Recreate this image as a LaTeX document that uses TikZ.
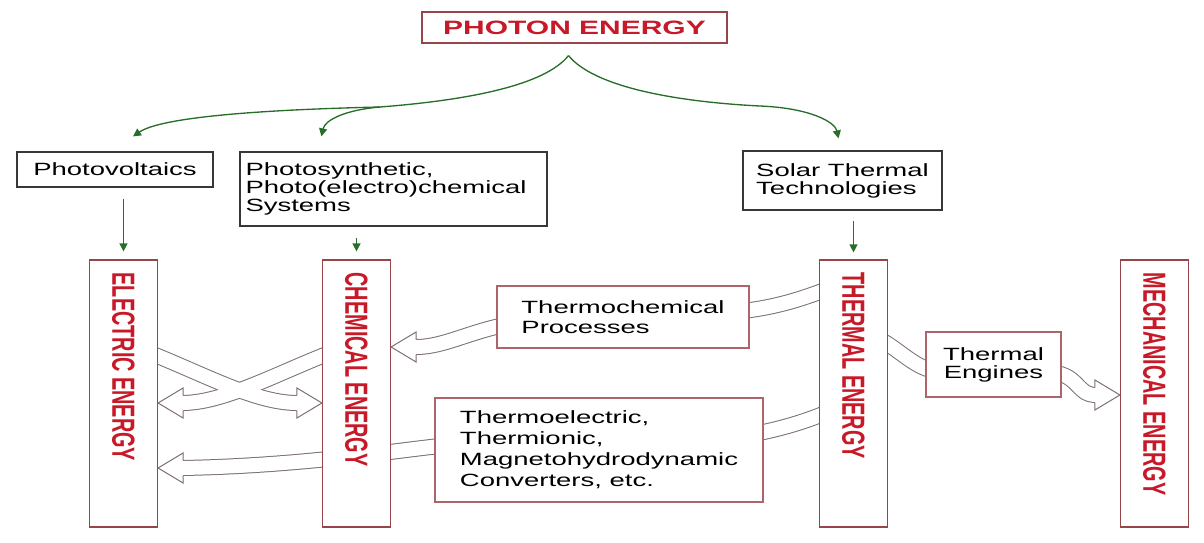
\documentclass[tikz,border=0pt]{standalone}
\usepackage{fontspec}
\setmainfont{Liberation Sans}
\newfontfamily\widefont[FakeStretch=1.55]{Liberation Sans}
\newfontfamily\tallfont[FakeStretch=0.62]{Liberation Sans}
\usepackage{xcolor}
\usepackage{tikz}
\usetikzlibrary{arrows.meta,calc,backgrounds}

\definecolor{boxblack}{RGB}{55,55,55}
\definecolor{boxred}{RGB}{150,70,75}
\definecolor{procred}{RGB}{175,100,105}
\definecolor{energyred}{RGB}{200,25,40}
\definecolor{arrowgreen}{RGB}{40,110,40}
\definecolor{bandgray}{RGB}{125,110,115}

\newcommand\headleft[1]{\draw[bandhead] ($#1+(25,-7.5)$) -- ++(0,-7.5) -- #1 -- ++(25,15) -- ++(0,-7.5);}
\newcommand\headright[1]{\draw[bandhead] ($#1+(-25,-7.5)$) -- ++(0,-7.5) -- #1 -- ++(-25,15) -- ++(0,-7.5);}

\begin{document}
\begin{tikzpicture}[x=0.75pt,y=-0.75pt,
  box/.style={draw=boxblack,line width=0.9pt,fill=white,align=left,inner sep=3pt,
    font=\widefont\fontsize{13.3}{13.5}\selectfont},
  procbox/.style={box,draw=procred},
  titlebox/.style={draw=boxred,line width=0.9pt,fill=white,text=energyred,
    minimum width=228.75pt,minimum height=23.25pt,font=\widefont\bfseries\fontsize{14.5}{15}\selectfont},
  energybox/.style={draw=boxred,line width=0.9pt,fill=white,minimum width=51pt,minimum height=200.25pt},
  energylabel/.style={rotate=-90,anchor=west,inner sep=0pt,text=energyred,
    font=\tallfont\bfseries\fontsize{24}{25}\selectfont},
  greenline/.style={draw=arrowgreen,line width=1pt},
  greenarrow/.style={greenline,-{Triangle[length=6pt,width=6pt]}},
  bandout/.style={draw=bandgray,line width=12pt},
  bandin/.style={draw=white,line width=10.5pt},
  bandhead/.style={draw=bandgray,fill=white,line width=0.75pt}]
\useasboundingbox (0,0) rectangle (1204,543);
% source
\node[titlebox] (photon) at (574.5,27.5) {PHOTON ENERGY};
% conversion routes
\node[box,minimum width=147pt,minimum height=26.25pt] (pv) at (115,169.5) {Photovoltaics};
\node[box,minimum width=230.25pt,minimum height=55.5pt,text width=222pt] (photosyn) at (393.5,189)
  {Photosynthetic,\\Photo(electro)chemical\\Systems};
\node[box,minimum width=149.25pt,minimum height=44.25pt] (solar) at (842.5,180.5) {Solar Thermal\\Technologies};
% energy forms
\node[energybox] (elec) at (123.5,393.5) {};
\node[energybox] (chem) at (356.5,393.5) {};
\node[energybox] (thermal) at (853.5,393.5) {};
\node[energybox] (mech) at (1154.5,393.5) {};
\node[energylabel] (elecT) at ($(elec.north)+(0,13)$) {ELECTRIC ENERGY};
\node[energylabel] (chemT) at ($(chem.north)+(0,13)$) {CHEMICAL ENERGY};
\node[energylabel] (thermalT) at ($(thermal.north)+(0,13)$) {THERMAL ENERGY};
\node[energylabel] (mechT) at ($(mech.north)+(0,13)$) {MECHANICAL ENERGY};
% processes
\node[procbox,minimum width=189pt,minimum height=46.5pt,font=\widefont\fontsize{13.3}{15}\selectfont]
  (thermochem) at (623,317) {Thermochemical\\Processes};
\node[procbox,minimum width=246pt,minimum height=78pt,font=\widefont\fontsize{13.3}{15.75}\selectfont]
  (thermoel) at (599,450) {Thermoelectric,\\Thermionic,\\Magnetohydrodynamic\\Converters, etc.};
\node[procbox,align=center,minimum width=101.25pt,minimum height=48.75pt] (engines) at (993.5,364.5) {Thermal\\Engines};
% green arrows
\coordinate (split) at ($(photon.south)+(-6,12)$);
\coordinate (fork) at (380,107);
\draw[greenline] (split) .. controls (545,85) and (470,100) .. (fork);
\draw[greenarrow] (fork) .. controls (250,110) and (160,118) .. ($(pv.north)+(18,-15)$);
\draw[greenarrow] (fork) .. controls (345,110) and (325,120) .. ($(photosyn.north west)+(82,-15)$);
\draw[greenarrow] (split) .. controls (595,88) and (680,102) .. (760,106)
  .. controls (810,108) and (835,122) .. ($(solar.north)+(-4,-12)$);
\draw[greenarrow] ($(elec.north |- pv.south)+(0,11)$) -- ($(elec.north)+(0,-8)$);
\draw[greenarrow] ($(chem.north |- photosyn.south)+(0,11)$) -- ($(chem.north)+(0,-8)$);
\draw[greenarrow] ($(thermal.north |- solar.south)+(0,10)$) -- ($(thermal.north)+(0,-7)$);
% hollow arrows
\begin{scope}[on background layer]
\foreach \s in {bandout,bandin}{
  \draw[\s] (thermal.center |- 0,279) .. controls (800,300) and (770,312) .. (700,314)
    -- (540,320) .. controls (480,324) and (450,347) .. (416,347);
  \draw[\s] (thermal.center |- 0,400) .. controls (800,428) and (745,438) .. (700,440)
    -- (440,446) .. controls (400,450) and (300,466) .. (182,468);
  \draw[\s] (thermal.center |- 0,328) .. controls (900,342) and (910,372) .. (945,372)
    -- (1045,372) .. controls (1080,372) and (1075,395) .. (1096,395);
  \draw[\s] (elec.center |- 0,343) .. controls (190,366) and (250,403) .. (297,403);
  \draw[\s] (chem.center |- 0,343) .. controls (289,366) and (229,403) .. (182,403);
}
\headleft{(chem.east |- 0,347)}
\headleft{(elec.east |- 0,468)}
\headright{(mech.west |- 0,395)}
\headright{(chem.west |- 0,403)}
\headleft{(elec.east |- 0,403)}
\end{scope}
\end{tikzpicture}
\end{document}
